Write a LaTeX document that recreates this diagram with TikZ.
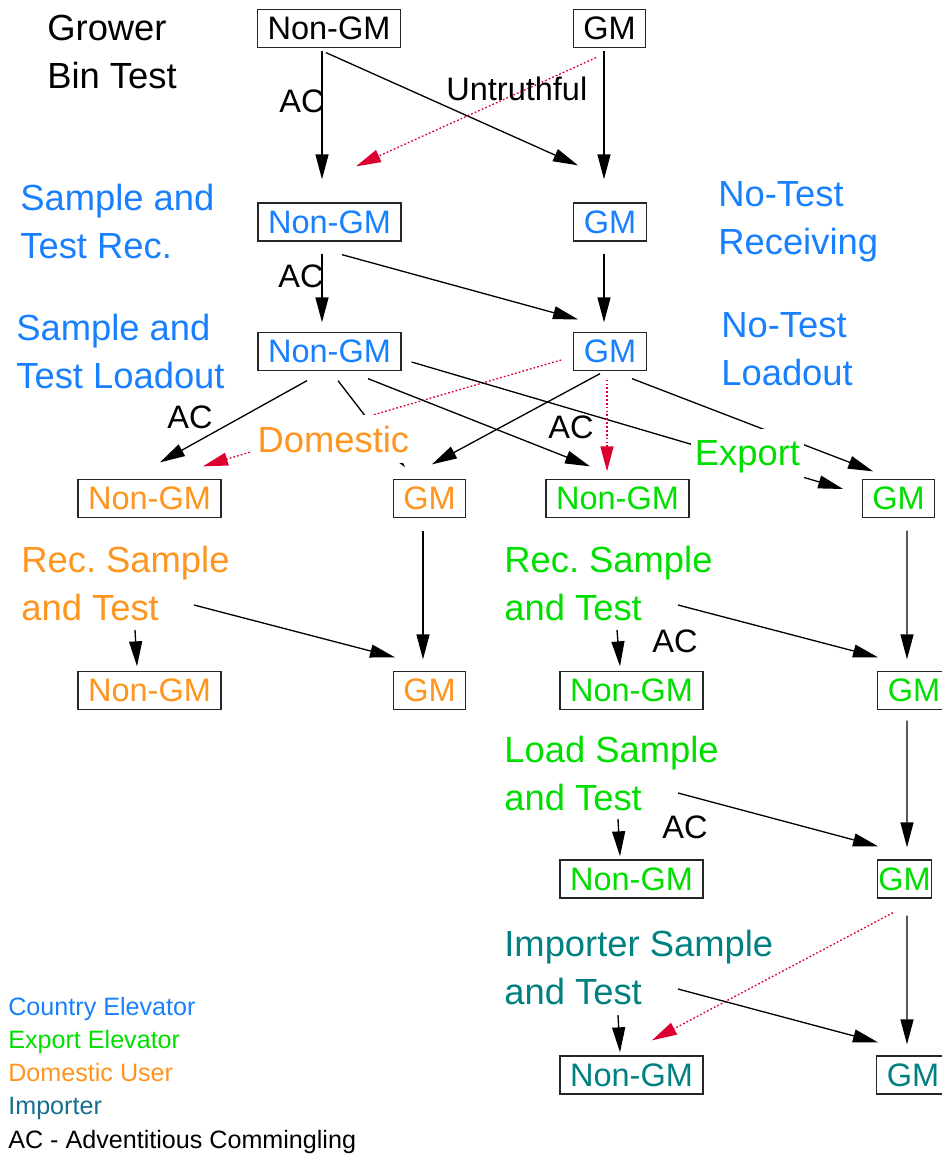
\documentclass[tikz,border=0pt]{standalone}
\usepackage{fontspec}
\setmainfont{Liberation Sans}
\usetikzlibrary{arrows.meta}
\usetikzlibrary{calc}
\usetikzlibrary{positioning}
\frenchspacing

\definecolor{countryblue}{RGB}{24,128,255}
\definecolor{exportgreen}{RGB}{0,222,0}
\definecolor{domorange}{RGB}{255,148,30}
\definecolor{impteal}{RGB}{0,128,128}
\definecolor{implegend}{RGB}{20,110,140}
\definecolor{leakred}{RGB}{220,0,48}

\tikzset{
  bin/.style={draw=black!85,line width=0.75pt,fill=white,minimum height=0.76cm,
    inner xsep=0.2cm,inner ysep=0pt,font=\fontsize{18.5}{22}\selectfont},
  flow/.style={draw=black,line width=0.75pt,-{Triangle[length=0.5cm,width=0.26cm]}},
  leak/.style={draw=leakred,line width=0.75pt,dash pattern=on 1pt off 1.2pt,
    -{Triangle[length=0.5cm,width=0.26cm,fill=leakred]}},
  stage/.style={anchor=base west,align=left,inner sep=0pt,font=\fontsize{20.7}{27.3}\selectfont},
  aclabel/.style={anchor=base west,inner sep=0pt,font=\fontsize{18.5}{22}\selectfont},
}

\begin{document}
\begin{tikzpicture}[x=0.02cm,y=-0.02cm]
    \useasboundingbox (0,0) rectangle (942,1156);
    % bins
    \begin{scope}[every node/.style={bin}]
      \node (ng1) at (329,28.5) {Non-GM};
      \node (gm1) at (609.5,28.5) {GM};
      \node[text=countryblue] (ng2) at (329.5,222) {Non-GM};
      \node[text=countryblue] (gm2) at (610,222) {GM};
      \node[text=countryblue] (ng3) at (329.5,351.5) {Non-GM};
      \node[text=countryblue] (gm3) at (610,351.5) {GM};
      \node[text=domorange] (ngD) at (149.5,498.5) {Non-GM};
      \node[text=domorange] (gmD) at (429.5,498.5) {GM};
      \node[text=exportgreen] (ngE) at (617.5,498.5) {Non-GM};
      \node[text=exportgreen] (gmE) at (898.5,498.5) {GM};
      \node[text=domorange] (ngD2) at (149.5,690.5) {Non-GM};
      \node[text=domorange] (gmD2) at (429.5,690.5) {GM};
      \node[text=exportgreen] (ngE2) at (631.5,690.5) {Non-GM};
      \node[text=exportgreen] (gmE2) at (914,690.5) {GM};
      \node[text=exportgreen] (ngE3) at (631.5,879) {Non-GM};
      \node[text=exportgreen,inner xsep=0.02cm] (gmE3) at (904.5,879) {GM};
      \node[text=impteal] (ngI) at (631.5,1075) {Non-GM};
      \node[text=impteal] (gmI) at (913,1075) {GM};
    \end{scope}

    \coordinate (dmid) at (366,417);
    \coordinate (recDtail) at (194,605);
    \coordinate (recDdown) at (135,630);
    \coordinate (recEtail) at (678,605);
    \coordinate (recEdown) at (617,630);
    \coordinate (loadtail) at (678,793);
    \coordinate (loaddown) at (618,819);
    \coordinate (imptail) at (678,989);
    \coordinate (impdown) at (618,1015);

    % grower -> receiving
    \draw[flow] ($(ng1.south)+(-7,2.5)$) -- ($(ng2.north)+(-7.5,-23)$);
    \draw[flow] ($(ng1.south)+(-3,4.5)$) -- ($(gm2.north)+(-32,-37)$);
    \draw[flow] ($(gm1.south)+(-5.5,2.5)$) -- ($(gm2.north)+(-6,-23)$);
    \draw[leak] ($(gm1.south)+(-13.5,9.5)$) -- ($(ng2.north)+(26.5,-36)$);
    % receiving -> loadout
    \draw[flow] ($(ng2.south)+(-7.5,12)$) -- ($(ng3.north)+(-7.5,-9.5)$);
    \draw[flow] ($(ng2.south)+(12.5,13)$) -- ($(gm3.north)+(-32,-12.5)$);
    \draw[flow] ($(gm2.south)+(-6,12)$) -- ($(gm3.north)+(-6,-9.5)$);
    % loadout -> domestic / export
    \draw[flow] ($(ng3.south)+(-22.5,9.5)$) -- ($(ngD.north)+(10.5,-16.5)$);
    \draw[flow] ($(ng3.south)+(8.5,9.5)$) -- (dmid) -- ($(gmD.north)+(-24.5,-11.5)$);
    \draw[leak] ($(gm3.west)+(-12,8.5)$) -- (dmid) -- ($(ngD.north)+(53.5,-12.5)$);
    \draw[flow] ($(ng3.south)+(38.5,7.5)$) -- ($(ngE.north)+(-27.5,-12.5)$);
    \draw[flow] ($(ng3.east)+(10,10.5)$) -- ($(gmE.west)+(-18.5,-9.5)$);
    \draw[flow] ($(gm3.south)+(-10,2.5)$) -- ($(gmD.north)+(2.5,-14.5)$);
    \draw[leak] ($(gm3.south)+(-3,8.5)$) -- ($(ngE.north)+(-10.5,-7.5)$);
    \draw[flow] ($(gm3.south)+(22,7.5)$) -- ($(gmE.north)+(-25.5,-7.5)$);
    % domestic user
    \draw[flow] ($(gmD.south)+(-6.5,12.5)$) -- ($(gmD2.north)+(-6.5,-11.5)$);
    \draw[flow] (recDtail) -- ($(gmD2.north)+(-34.5,-13.5)$);
    \draw[flow] (recDdown) -- ($(ngD2.north)+(-12.5,-4.5)$);
    % export elevator
    \draw[flow] ($(gmE.south)+(8.5,12.5)$) -- ($(gmE2.north)+(-7,-11.5)$);
    \draw[flow] (recEtail) -- ($(gmE2.north)+(-36,-13.5)$);
    \draw[flow] (recEdown) -- ($(ngE2.north)+(-11.5,-4.5)$);
    \draw[flow] ($(gmE2.south)+(-7,10.5)$) -- ($(gmE3.north)+(2.5,-12)$);
    \draw[flow] (loadtail) -- ($(gmE3.north)+(-26.5,-13)$);
    \draw[flow] (loaddown) -- ($(ngE3.north)+(-11.5,-3)$);
    % importer
    \draw[flow] ($(gmE3.south)+(2.5,17)$) -- ($(gmI.north)+(-6,-11)$);
    \draw[leak] ($(gmE3.south)+(-11.5,14)$) -- ($(ngI.north)+(20.5,-15)$);
    \draw[flow] (imptail) -- ($(gmI.north)+(-35,-13)$);
    \draw[flow] (impdown) -- ($(ngI.north)+(-11.5,-3)$);

    % stage labels (anchored at the last line)
    \node[stage] (grower) at (47,88) {Grower\\Bin Test};
    \node[stage,text=countryblue] (strec) at (20,258) {Sample and\\Test Rec.};
    \node[stage,text=countryblue] (stload) at (16,388) {Sample and\\Test Loadout};
    \node[stage,text=countryblue] (ntrec) at (718,254) {No-Test\\Receiving};
    \node[stage,text=countryblue] (ntload) at (721,385) {No-Test\\Loadout};
    \node[stage,text=domorange,fill=white,inner xsep=3pt,inner ysep=6pt] (domestic) at (252,452) {Domestic};
    \node[stage,text=exportgreen,fill=white,inner xsep=2pt,inner ysep=6pt] (export) at (691,465) {Export};
    \node[stage,text=domorange] (recD) at (21,620) {Rec. Sample\\and Test};
    \node[stage,text=exportgreen] (recE) at (504,620) {Rec. Sample\\and Test};
    \node[stage,text=exportgreen] (loadE) at (504,810) {Load Sample\\and Test};
    \node[stage,text=impteal] (impI) at (504,1004) {Importer Sample\\and Test};

    % commingling labels
    \node[aclabel] (ac1) at (279,112) {AC};
    \node[aclabel] (untruth) at (446,100) {Untruthful};
    \node[aclabel] (ac2) at (278,287) {AC};
    \node[aclabel] (ac3) at (167,428) {AC};
    \node[aclabel] (ac4) at (548,438) {AC};
    \node[aclabel] (ac5) at (652,652) {AC};
    \node[aclabel] (ac6) at (662,838) {AC};

    % legend
    \node[anchor=base west,align=left,inner sep=0pt,font=\fontsize{14.3}{18.9}\selectfont] (legend) at (8,1148)
      {\textcolor{countryblue}{Country Elevator}\\\textcolor{exportgreen}{Export Elevator}\\
       \textcolor{domorange}{Domestic User}\\\textcolor{implegend}{Importer}\\AC - Adventitious Commingling};
\end{tikzpicture}
\end{document}
